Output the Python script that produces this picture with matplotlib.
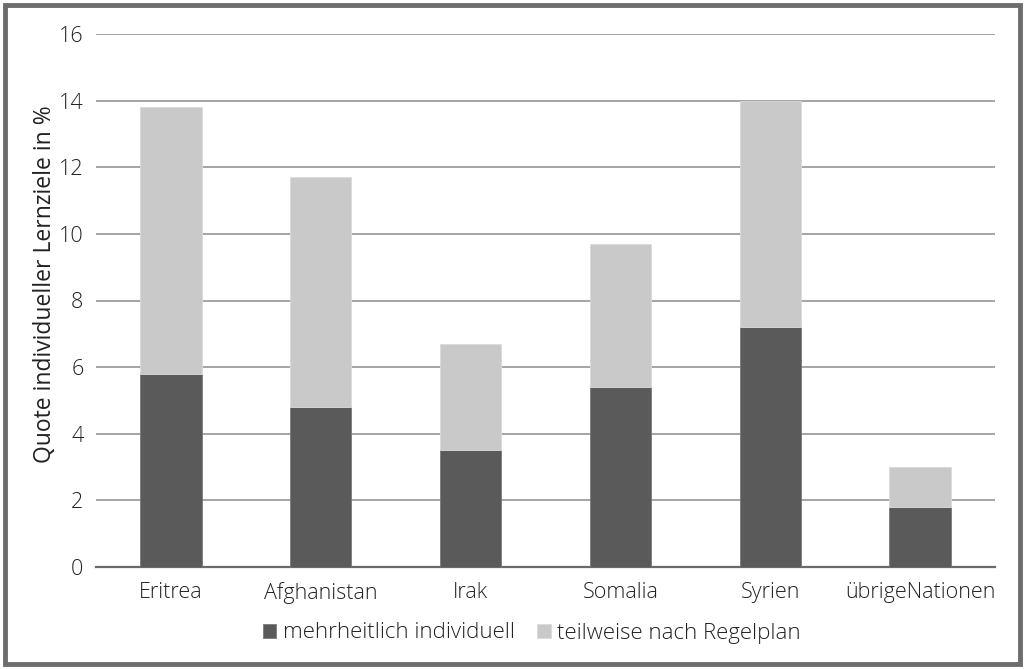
import matplotlib.pyplot as plt
from matplotlib.patches import Rectangle

plt.rcParams['font.family'] = ['Open Sans', 'DejaVu Sans']
plt.rcParams['font.weight'] = 'light'

laender = ['Eritrea', 'Afghanistan', 'Irak', 'Somalia', 'Syrien', 'übrigeNationen']
individuell = [5.8, 4.8, 3.5, 5.4, 7.2, 1.8]
gesamt = [13.8, 11.7, 6.7, 9.7, 14.0, 3.0]
regelplan = [g - i for g, i in zip(gesamt, individuell)]
yticks = [0, 2, 4, 6, 8, 10, 12, 14, 16]

dunkel = '#5a5a5a'
hell = '#c9c9c9'

fig = plt.figure(figsize=(10.25, 6.69), dpi=100)
ax = fig.add_axes([96 / 1025, 1 - 567 / 669, 899 / 1025, 533 / 669])

x = range(len(laender))
ax.bar(x, individuell, width=0.41, color=dunkel, edgecolor='#7a7a7a', linewidth=0.6,
       label='mehrheitlich individuell', zorder=3)
ax.bar(x, regelplan, bottom=individuell, width=0.41, color=hell, edgecolor='#dadada',
       linewidth=0.6, label='teilweise nach Regelplan', zorder=3)

ax.set_xlim(-0.5, len(laender) - 0.5)
ax.set_ylim(0, 16)
ax.set_yticks(yticks)
ax.set_yticklabels([str(t) for t in yticks])
ax.set_xticks(list(x))
ax.set_xticklabels(laender)
ax.tick_params(axis='both', length=0, labelsize=15.5, colors='#222222')
ax.tick_params(axis='x', pad=11)
ax.tick_params(axis='y', pad=9)
ax.yaxis.grid(True, color='#8c8c8c', linewidth=1.1, zorder=0)
ax.set_axisbelow(True)
for s in ['top', 'right', 'left']:
    ax.spines[s].set_visible(False)
ax.spines['bottom'].set_color('#6a6a6a')
ax.spines['bottom'].set_linewidth(1.6)

ax.set_ylabel('Quote individueller Lernziele in %', fontsize=16.5, color='#222222')
ax.yaxis.set_label_coords(-0.043, 0.53)

fig.legend(loc='center', bbox_to_anchor=(532 / 1025, 1 - 633 / 669), ncol=2, frameon=False,
           prop={'size': 16, 'weight': 'light'}, handlelength=0.6, handleheight=0.6,
           handletextpad=0.3, columnspacing=1.0, labelcolor='#222222')

fig.patches.append(Rectangle((5 / 1025, 5 / 669), 1015 / 1025, 659 / 669,
                             transform=fig.transFigure, fill=False,
                             edgecolor='#6d6d6d', linewidth=3.5))

fig.savefig('out.png', dpi=100, facecolor='white')
